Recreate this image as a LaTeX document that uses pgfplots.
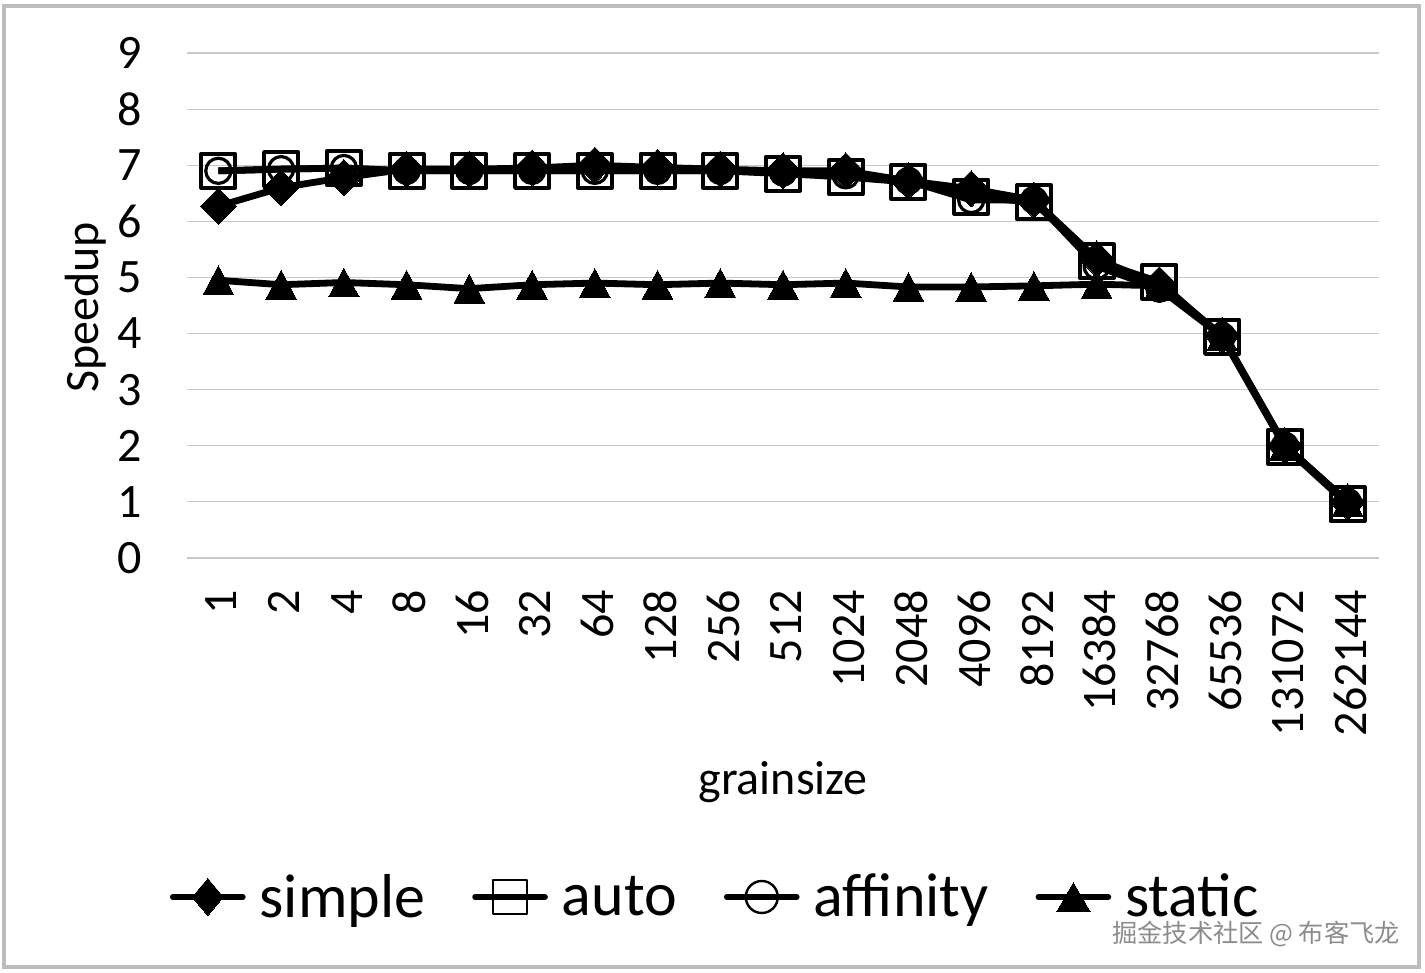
\documentclass[border=0pt]{standalone}
\usepackage{pgfplots}
\pgfplotsset{compat=1.18}
\usepackage{pgfplotstable}
\usepackage{fontspec}
\setmainfont{Carlito}
\newfontfamily\cjk{Noto Sans CJK SC}
\definecolor{gridc}{HTML}{C8C8C8}
\definecolor{framec}{HTML}{BDBDBD}
\pgfplotstableread{
x simple auto affinity static
0 6.27 6.90 6.90 4.95
1 6.60 6.93 6.93 4.87
2 6.78 6.95 6.95 4.91
3 6.93 6.90 6.90 4.87
4 6.93 6.90 6.90 4.80
5 6.95 6.90 6.90 4.87
6 7.00 6.90 6.90 4.90
7 6.96 6.90 6.90 4.87
8 6.93 6.90 6.90 4.90
9 6.90 6.85 6.87 4.87
10 6.90 6.79 6.82 4.90
11 6.72 6.70 6.72 4.83
12 6.58 6.44 6.38 4.83
13 6.38 6.34 6.38 4.85
14 5.33 5.29 5.20 4.88
15 4.87 4.92 4.80 4.85
16 3.97 3.94 3.95 3.95
17 2.00 1.98 2.00 2.00
18 1.00 0.96 1.00 1.00
}\data
\begin{document}
\begin{tikzpicture}[x=1pt,y=1pt]
\path[use as bounding box] (0,0) rectangle (712.5,486.5);
\fill[white] (0,0) rectangle (712.5,486.5);
\draw[framec,line width=2pt] (2,3) rectangle (709.5,483.5);
\begin{axis}[
  at={(93.5pt,207.5pt)}, anchor=south west,
  scale only axis, width=596pt, height=252.5pt,
  xmin=-0.5, xmax=18.5, ymin=0, ymax=9,
  clip=false,
  axis lines*=left,
  x axis line style={gridc,line width=0.6pt,-},
  y axis line style={draw=none},
  ymajorgrids,
  grid style={gridc,line width=0.6pt},
  xtick={0,...,18},
  xticklabels={1,2,4,8,16,32,64,128,256,512,1024,2048,4096,8192,16384,32768,65536,131072,262144},
  ytick={0,...,9},
  major tick length=0pt,
  tick label style={font=\fontsize{24}{24}\selectfont,black},
  /pgf/number format/assume math mode=true,
  xticklabel style={rotate=90,anchor=east,xshift=-12.5pt,yshift=-1.5pt},
  yticklabel style={xshift=-19pt},
  xlabel={grainsize}, ylabel={Speedup},
  label style={font=\fontsize{24}{24}\selectfont},
  xlabel style={at={(axis description cs:0.5,0)},anchor=center,yshift=-112pt},
  ylabel style={at={(axis description cs:0,0.5)},anchor=center,yshift=50.5pt,xshift=-1pt},
  every axis plot/.append style={black,line width=3.4pt,line join=round},
  legend columns=4,
  legend style={at={(-8.5pt,-169.5pt)},anchor=west,draw=none,fill=none,inner sep=0pt,outer sep=0pt,
    font=\fontsize{31}{31}\selectfont,
    /tikz/every even column/.append style={column sep=21.5pt},
    /tikz/every odd column/.append style={column sep=5pt}},
]
\addplot[mark=diamond*,mark size=9pt,mark options={solid,fill=black,line width=0pt,xscale=1.33},
  legend image code/.code={\draw[line width=2.8pt,line cap=round] (0,0)--(35pt,0);
    \draw[mark=diamond*,mark size=9.25pt,mark options={fill=black,line width=0pt,xscale=1.12},draw=none] plot coordinates {(17.5pt,0)};}]
  table[x=x,y=simple]{\data};
\addlegendentry{simple}
\addplot[mark=square,mark size=8.5pt,mark options={solid,line width=2pt},
  legend image code/.code={\draw[line width=2.8pt,line cap=round] (0,0)--(35pt,0);
    \draw[mark=square,mark size=8.5pt,mark options={line width=1pt,black},draw=none] plot coordinates {(17.5pt,0)};}]
  table[x=x,y=auto]{\data};
\addlegendentry{auto}
\addplot[mark=o,mark size=6.3pt,mark options={solid,line width=1.6pt},
  legend image code/.code={\draw[line width=2.8pt,line cap=round] (0,0)--(35pt,0);
    \draw[mark=o,mark size=8pt,mark options={line width=1.2pt,black},draw=none] plot coordinates {(17.5pt,0)};}]
  table[x=x,y=affinity]{\data};
\addlegendentry{affinity}
\addplot[mark=triangle*,mark size=9.6pt,mark options={solid,fill=black,line width=0pt,yshift=-2.4pt,xscale=0.92},
  legend image code/.code={\draw[line width=2.8pt,line cap=round] (0,0)--(35pt,0);
    \draw[mark=triangle*,mark size=9.6pt,mark options={fill=black,line width=0pt,yshift=-2.4pt},draw=none] plot coordinates {(17.5pt,0)};}]
  table[x=x,y=static]{\data};
\addlegendentry{static}
\end{axis}
\node[anchor=east,inner sep=0pt,text=black!45] at (700,19.5) {\fontsize{12.6}{12.6}\selectfont\cjk 掘金技术社区 @ 布客飞龙};
\end{tikzpicture}
\end{document}
